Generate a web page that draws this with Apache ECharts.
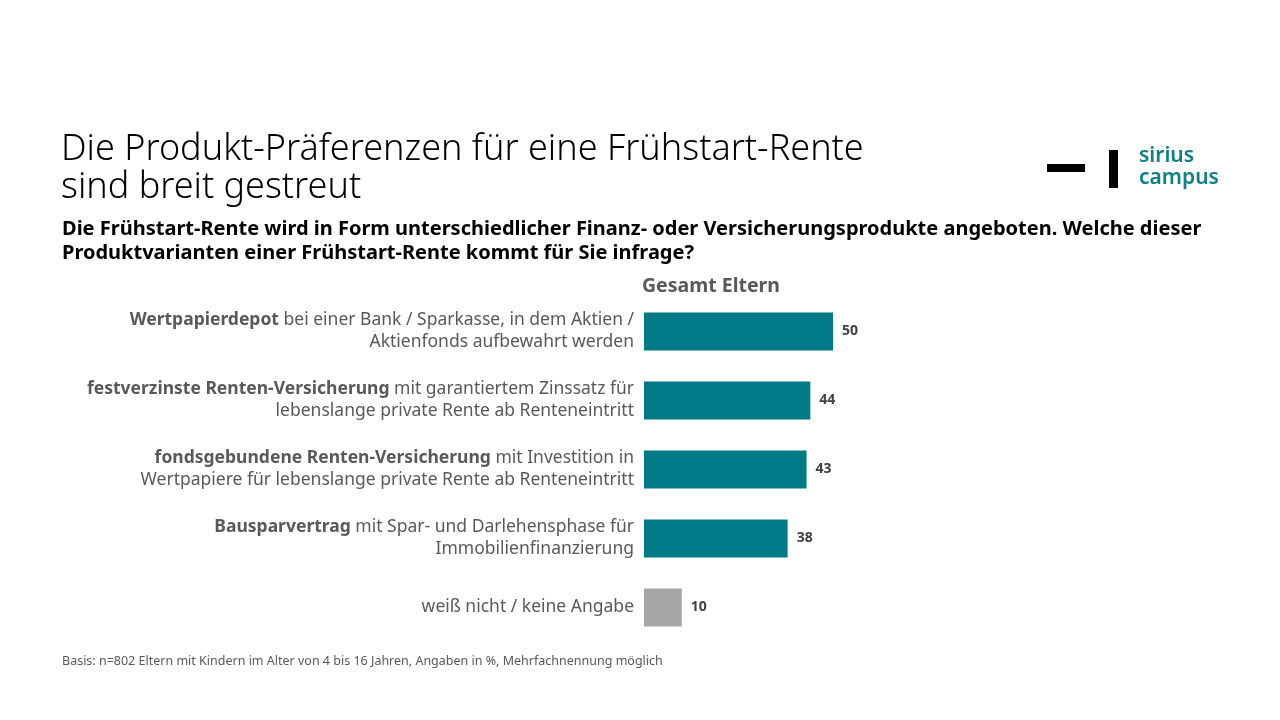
<!DOCTYPE html>
<html>
<head>
<meta charset="utf-8">
<script src="https://cdn.jsdelivr.net/npm/echarts@6/dist/echarts.min.js"></script>
<style>
html,body{margin:0;padding:0;background:#fff;}
#chart{width:1280px;height:720px;}
</style>
</head>
<body>
<div id="chart"></div>
<script>
const labelBold = [
  'Wertpapierdepot',
  'festverzinste Renten-Versicherung',
  'fondsgebundene Renten-Versicherung',
  'Bausparvertrag',
  ''
];
const labelRest1 = [
  ' bei einer Bank / Sparkasse, in dem Aktien /',
  ' mit garantiertem Zinssatz für',
  ' mit Investition in',
  ' mit Spar- und Darlehensphase für',
  'weiß nicht / keine Angabe'
];
const labelLine2 = [
  'Aktienfonds aufbewahrt werden',
  'lebenslange private Rente ab Renteneintritt',
  'Wertpapiere für lebenslange private Rente ab Renteneintritt',
  'Immobilienfinanzierung',
  ''
];
const values = [50, 44, 43, 38, 10];
const barColors = ['#007A87', '#007A87', '#007A87', '#007A87', '#A6A6A6'];
const seriesName = 'Gesamt Eltern';

const FONT = 'Noto Sans';
const categories = labelBold.map((b, i) => {
  let s = '';
  if (b) s += '{b|' + b + '}';
  s += '{n|' + labelRest1[i] + '}';
  if (labelLine2[i]) s += '\n{n|' + labelLine2[i] + '}';
  return s;
});

const chart = echarts.init(document.getElementById('chart'));
chart.setOption({
  backgroundColor: '#fff',
  animation: false,
  title: [
    {
      text: 'Die Produkt-Präferenzen für eine Frühstart-Rente\nsind breit gestreut',
      left: 61, top: 131, padding: 0,
      textStyle: {fontFamily: FONT, fontSize: 36, fontWeight: 300, color: '#000', lineHeight: 38}
    },
    {
      text: 'Die Frühstart-Rente wird in Form unterschiedlicher Finanz- oder Versicherungsprodukte angeboten. Welche dieser\nProduktvarianten einer Frühstart-Rente kommt für Sie infrage?',
      left: 62, top: 217, padding: 0,
      textStyle: {fontFamily: FONT, fontSize: 20, fontWeight: 'bold', color: '#000', lineHeight: 24}
    },
    {
      text: seriesName,
      left: 711, top: 276, textAlign: 'center', padding: 0,
      textStyle: {fontFamily: FONT, fontSize: 19.5, fontWeight: 'bold', color: '#595959'}
    },
    {
      text: 'Basis: n=802 Eltern mit Kindern im Alter von 4 bis 16 Jahren, Angaben in %, Mehrfachnennung möglich',
      left: 62, top: 655, padding: 0,
      textStyle: {fontFamily: FONT, fontSize: 12.5, fontWeight: 'normal', color: '#595959'}
    }
  ],
  graphic: [
    {type: 'rect', shape: {x: 1047, y: 164, width: 38, height: 8}, style: {fill: '#000'}},
    {type: 'rect', shape: {x: 1109, y: 150, width: 9, height: 38}, style: {fill: '#000'}},
    {type: 'text', left: 1139, top: 145, style: {text: 'sirius\ncampus', fill: '#0E8089', font: '600 21px "Noto Sans"', lineHeight: 22}}
  ],
  grid: {left: 644, top: 297, height: 345, width: 226.8, containLabel: false},
  xAxis: {type: 'value', min: 0, max: 60, show: false},
  yAxis: {
    type: 'category', inverse: true, data: categories,
    axisLine: {show: false}, axisTick: {show: false},
    axisLabel: {
      margin: 10, align: 'right',
      rich: {
        b: {fontFamily: FONT, fontSize: 17.5, fontWeight: 'bold', color: '#595959', lineHeight: 22},
        n: {fontFamily: FONT, fontSize: 17.5, fontWeight: 'normal', color: '#595959', lineHeight: 22}
      }
    }
  },
  series: [{
    type: 'bar', name: seriesName, barWidth: 38,
    data: values.map((v, i) => ({value: v, itemStyle: {color: barColors[i]}})),
    label: {show: true, position: 'right', distance: 9, fontFamily: FONT, fontSize: 14, fontWeight: 'bold', color: '#404040'}
  }]
});
</script>
</body>
</html>
